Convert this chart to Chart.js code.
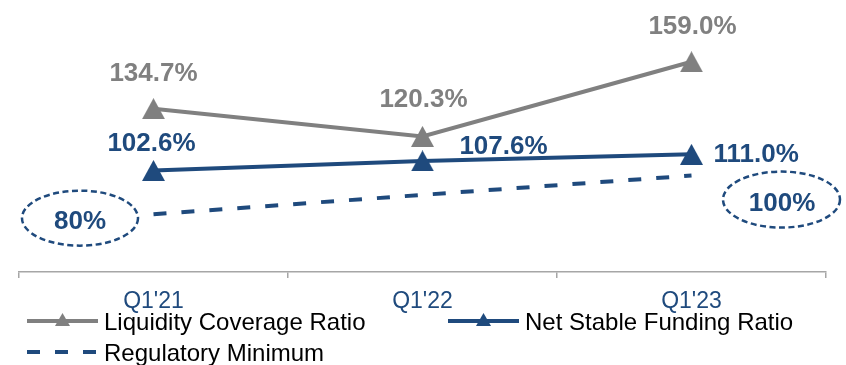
<!DOCTYPE html>
<html>
<head>
<meta charset="utf-8">
<script src="https://cdn.jsdelivr.net/npm/chart.js@4"></script>
<style>
  html, body { margin: 0; padding: 0; background: #fff; }
</style>
</head>
<body>
<canvas id="ratioChart" width="846" height="365"></canvas>
<script>
const quarters = ["Q1'21", "Q1'22", "Q1'23"];
const lcrValues = [134.7, 120.3, 159.0];
const nsfrValues = [102.6, 107.6, 111.0];
const regMinValues = [80, 90, 100];

const GRAY = '#808080';
const BLUE = '#1f4a7d';
const FONT = "'Liberation Sans', Arial, sans-serif";

// triangle marker centred in its box (like the office-style markers)
function makeTriangle(color, w, h) {
  const c = document.createElement('canvas');
  c.width = w;
  c.height = h;
  const ctx = c.getContext('2d');
  ctx.fillStyle = color;
  ctx.beginPath();
  ctx.moveTo(w / 2, 0);
  ctx.lineTo(w, h);
  ctx.lineTo(0, h);
  ctx.closePath();
  ctx.fill();
  return c;
}

// value labels next to the points
const valueLabels = {
  id: 'valueLabels',
  afterDatasetsDraw(chart) {
    const ctx = chart.ctx;
    chart.data.datasets.forEach((ds, i) => {
      const meta = chart.getDatasetMeta(i);
      const places = ds.labelPlaces || [];
      meta.data.forEach((pt, j) => {
        const place = places[j];
        if (!place) return;
        const v = ds.data[j];
        const text = ds.wholeLabels ? v + '%' : v.toFixed(1) + '%';
        ctx.save();
        ctx.font = 'bold 26px ' + FONT;
        ctx.fillStyle = ds.labelColor;
        ctx.textAlign = place[2] || 'center';
        ctx.textBaseline = 'alphabetic';
        ctx.fillText(text, pt.x + place[0], pt.y + place[1]);
        if (place[3]) {
          // dashed ellipse around the label
          const e = place[3];
          ctx.beginPath();
          ctx.setLineDash([6, 3.5]);
          ctx.lineWidth = 2.5;
          ctx.strokeStyle = ds.labelColor;
          ctx.ellipse(pt.x + e[0], pt.y + e[1], e[2], e[3], 0, 0, Math.PI * 2);
          ctx.stroke();
        }
        ctx.restore();
      });
    });
  }
};

// legend drawn at fixed spots, two columns
const sideLegend = {
  id: 'sideLegend',
  afterDraw(chart) {
    const ctx = chart.ctx;
    const spots = [[27, 321], [448, 321], [27, 352]];
    chart.data.datasets.forEach((ds, i) => {
      const [x, y] = spots[i];
      ctx.save();
      ctx.strokeStyle = ds.borderColor;
      ctx.lineWidth = 4;
      ctx.setLineDash(ds.borderDash || []);
      ctx.beginPath();
      ctx.moveTo(x, y);
      ctx.lineTo(x + 71, y);
      ctx.stroke();
      if (ds.pointRadius > 0) {
        ctx.fillStyle = ds.borderColor;
        ctx.beginPath();
        ctx.moveTo(x + 35.5, y - 8);
        ctx.lineTo(x + 43, y + 5);
        ctx.lineTo(x + 28, y + 5);
        ctx.closePath();
        ctx.fill();
      }
      ctx.fillStyle = '#000';
      ctx.font = '24px ' + FONT;
      ctx.textBaseline = 'alphabetic';
      ctx.textAlign = 'left';
      ctx.fillText(ds.label, x + 77, y + 8.5);
      ctx.restore();
    });
  }
};

const ctx = document.getElementById('ratioChart').getContext('2d');
new Chart(ctx, {
  type: 'line',
  data: {
    labels: quarters,
    datasets: [
      {
        label: 'Liquidity Coverage Ratio',
        data: lcrValues,
        borderColor: GRAY,
        backgroundColor: GRAY,
        borderWidth: 4,
        pointStyle: makeTriangle(GRAY, 23, 21),
        pointRadius: 11,
        labelColor: GRAY,
        labelPlaces: [[0, -28], [1, -29], [1, -28]],
        clip: false
      },
      {
        label: 'Net Stable Funding Ratio',
        data: nsfrValues,
        borderColor: BLUE,
        backgroundColor: BLUE,
        borderWidth: 4,
        pointStyle: makeTriangle(BLUE, 23, 21),
        pointRadius: 11,
        labelColor: BLUE,
        labelPlaces: [[-2, -20], [81, -7], [22, 8, 'left']],
        clip: false
      },
      {
        label: 'Regulatory Minimum',
        data: regMinValues,
        borderColor: BLUE,
        backgroundColor: BLUE,
        borderWidth: 4,
        borderDash: [13, 15],
        pointRadius: 0,
        labelColor: BLUE,
        wholeLabels: true,
        labelPlaces: [[-73.5, 15, 'center', [-73.5, 4, 58, 27.5]], null, [90.5, 35, 'center', [90, 24, 58.5, 28]]],
        clip: false
      }
    ]
  },
  options: {
    responsive: false,
    animation: false,
    events: [],
    layout: { autoPadding: false, padding: { left: 19, right: 20, top: 2, bottom: 0 } },
    plugins: {
      legend: { display: false },
      tooltip: { enabled: false }
    },
    scales: {
      x: {
        offset: true,
        grid: { display: true, drawOnChartArea: false, offset: true, tickLength: 6, color: '#a6a6a6', lineWidth: 1.5 },
        border: { display: true, color: '#a6a6a6', width: 1.5 },
        ticks: { color: BLUE, font: { family: FONT, size: 23 }, padding: 10 },
        afterFit: (scale) => { scale.height = 93; }
      },
      y: {
        display: false,
        min: 50,
        max: 190
      }
    }
  },
  plugins: [valueLabels, sideLegend]
});
</script>
</body>
</html>
